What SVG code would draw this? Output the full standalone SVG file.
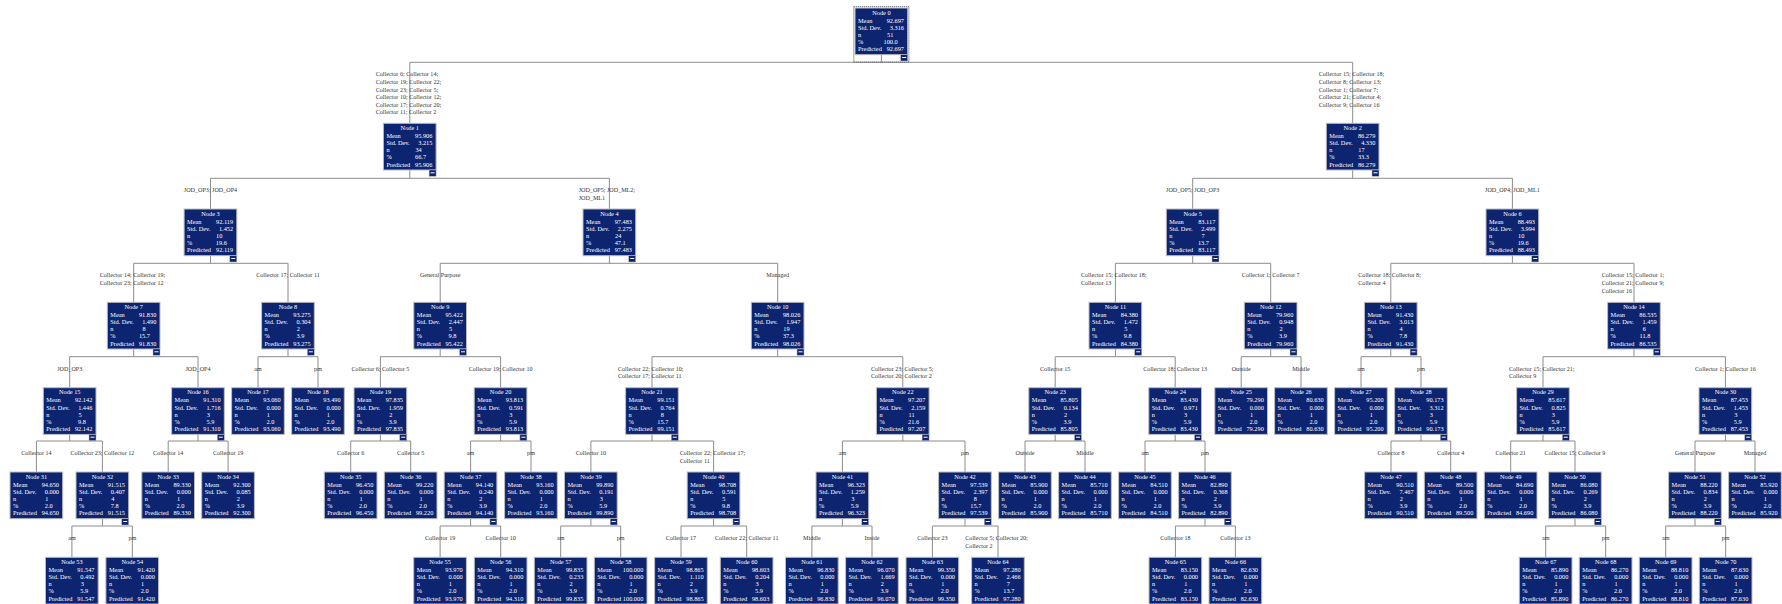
<svg xmlns="http://www.w3.org/2000/svg" xmlns:xlink="http://www.w3.org/1999/xlink" width="1782" height="604" viewBox="0 0 1782 604">
<style>
.box{fill:#0d2471;stroke:#bdbdbd;stroke-width:1}
.hd{font-family:"Liberation Serif",serif;font-size:6.3px;fill:#fff;text-anchor:middle}
.lb{font-family:"Liberation Serif",serif;font-size:6.3px;fill:#fff;text-anchor:start}
.vl{font-family:"Liberation Serif",serif;font-size:6.3px;fill:#fff;text-anchor:end}
.cn{fill:none;stroke:#8c8c8c;stroke-width:1}
.el{font-family:"Liberation Serif",serif;font-size:6.1px;fill:#333}
.m{text-anchor:middle}
.dot{fill:none;stroke:#444;stroke-width:1;stroke-dasharray:1 1}
</style>
<defs>
<g id="minus"><rect width="7" height="6.3" fill="#0d2471" stroke="#bdbdbd" stroke-width="0.5"/><path d="M1.5 2.8H5.5" stroke="#fff" stroke-width="1"/></g>
</defs>
<rect width="1782" height="604" fill="#fff"/>
<g id="connectors">
<path class="cn" d="M881.4 54.7V62.3M409.8 123.3V62.3H1352.7V123.3"/>
<path class="cn" d="M409.8 170V178.3M210.5 209V178.3H609.4V209"/>
<path class="cn" d="M1352.7 170V178.3M1192.7 209V178.3H1512.4V209"/>
<path class="cn" d="M210.5 255.7V263.3M133.7 302.3V263.3H288V302.3"/>
<path class="cn" d="M609.4 255.7V263.3M440.2 302.3V263.3H777.7V302.3"/>
<path class="cn" d="M1192.7 255.7V263.3M1115.4 302.3V263.3H1270.7V302.3"/>
<path class="cn" d="M1512.4 255.7V263.3M1390.8 302.3V263.3H1634V302.3"/>
<path class="cn" d="M133.7 349V356.7M69.7 387.7V356.7H198V387.7"/>
<path class="cn" d="M288 349V356.7M258 387.7V356.7H318V387.7"/>
<path class="cn" d="M440.2 349V356.7M380.4 387.7V356.7H500.6V387.7"/>
<path class="cn" d="M777.7 349V356.7M652 387.7V356.7H902.8V387.7"/>
<path class="cn" d="M1115.4 349V356.7M1055.2 387.7V356.7H1175.2V387.7"/>
<path class="cn" d="M1270.7 349V356.7M1241.2 387.7V356.7H1301V387.7"/>
<path class="cn" d="M1390.8 349V356.7M1361 387.7V356.7H1421V387.7"/>
<path class="cn" d="M1634 349V356.7M1543 387.7V356.7H1725.4V387.7"/>
<path class="cn" d="M69.7 434.4V441M36.4 472V441H102.4V472"/>
<path class="cn" d="M198 434.4V441M168.2 472V441H228.1V472"/>
<path class="cn" d="M380.4 434.4V441M350.7 472V441H410.7V472"/>
<path class="cn" d="M500.6 434.4V441M470.6 472V441H531V472"/>
<path class="cn" d="M652 434.4V441M590.9 472V441H713.6V472"/>
<path class="cn" d="M902.8 434.4V441M842.4 472V441H965V472"/>
<path class="cn" d="M1055.2 434.4V441M1025 472V441H1085V472"/>
<path class="cn" d="M1175.2 434.4V441M1145 472V441H1205V472"/>
<path class="cn" d="M1421 434.4V441M1391 472V441H1450.7V472"/>
<path class="cn" d="M1543 434.4V441M1510.7 472V441H1575V472"/>
<path class="cn" d="M1725.4 434.4V441M1695 472V441H1755V472"/>
<path class="cn" d="M102.4 518.7V526M71.9 557.3V526H132.3V557.3"/>
<path class="cn" d="M470.6 518.7V526M440.1 557.3V526H500.7V557.3"/>
<path class="cn" d="M590.9 518.7V526M560.7 557.3V526H620.7V557.3"/>
<path class="cn" d="M713.6 518.7V526M681 557.3V526H746.7V557.3"/>
<path class="cn" d="M842.4 518.7V526M811.9 557.3V526H872V557.3"/>
<path class="cn" d="M965 518.7V526M932.4 557.3V526H998V557.3"/>
<path class="cn" d="M1205 518.7V526M1175.4 557.3V526H1235.4V557.3"/>
<path class="cn" d="M1575 518.7V526M1545.7 557.3V526H1605.7V557.3"/>
<path class="cn" d="M1695 518.7V526M1665.7 557.3V526H1725.7V557.3"/>
<g id="edge-labels">
<text class="el"><tspan x="375.7" y="76.3">Collector 6; Collector 14;</tspan><tspan x="375.7" y="83.9">Collector 19; Collector 22;</tspan><tspan x="375.7" y="91.5">Collector 23; Collector 5;</tspan><tspan x="375.7" y="99.1">Collector 10; Collector 12;</tspan><tspan x="375.7" y="106.7">Collector 17; Collector 20;</tspan><tspan x="375.7" y="114.3">Collector 11; Collector 2</tspan></text>
<text class="el"><tspan x="1318.7" y="76.3">Collector 15; Collector 18;</tspan><tspan x="1318.7" y="83.9">Collector 8; Collector 13;</tspan><tspan x="1318.7" y="91.5">Collector 1; Collector 7;</tspan><tspan x="1318.7" y="99.1">Collector 21; Collector 4;</tspan><tspan x="1318.7" y="106.7">Collector 9; Collector 16</tspan></text>
<text class="el m" x="210.5" y="192.3">JOD_OP3; JOD_OP4</text>
<text class="el"><tspan x="578.7" y="192.3">JOD_OP5; JOD_ML2;</tspan><tspan x="578.7" y="199.9">JOD_ML1</tspan></text>
<text class="el m" x="1192.7" y="192.3">JOD_OP5; JOD_OP3</text>
<text class="el m" x="1512.4" y="192.3">JOD_OP4; JOD_ML1</text>
<text class="el"><tspan x="99.7" y="277.3">Collector 14; Collector 19;</tspan><tspan x="99.7" y="284.9">Collector 23; Collector 12</tspan></text>
<text class="el m" x="288" y="277.3">Collector 17; Collector 11</text>
<text class="el m" x="440.2" y="277.3">General Purpose</text>
<text class="el m" x="777.7" y="277.3">Managed</text>
<text class="el"><tspan x="1081" y="277.3">Collector 15; Collector 18;</tspan><tspan x="1081" y="284.9">Collector 13</tspan></text>
<text class="el m" x="1270.7" y="277.3">Collector 1; Collector 7</text>
<text class="el"><tspan x="1358.3" y="277.3">Collector 18; Collector 8;</tspan><tspan x="1358.3" y="284.9">Collector 4</tspan></text>
<text class="el"><tspan x="1601.7" y="277.3">Collector 15; Collector 1;</tspan><tspan x="1601.7" y="284.9">Collector 21; Collector 9;</tspan><tspan x="1601.7" y="292.5">Collector 16</tspan></text>
<text class="el m" x="69.7" y="370.7">JOD_OP3</text>
<text class="el m" x="198" y="370.7">JOD_OP4</text>
<text class="el m" x="258" y="370.7">am</text>
<text class="el m" x="318" y="370.7">pm</text>
<text class="el m" x="380.4" y="370.7">Collector 6; Collector 5</text>
<text class="el m" x="500.6" y="370.7">Collector 19; Collector 10</text>
<text class="el"><tspan x="618" y="370.7">Collector 22; Collector 10;</tspan><tspan x="618" y="378.3">Collector 17; Collector 11</tspan></text>
<text class="el"><tspan x="871" y="370.7">Collector 23; Collector 5;</tspan><tspan x="871" y="378.3">Collector 20; Collector 2</tspan></text>
<text class="el m" x="1055.2" y="370.7">Collector 15</text>
<text class="el m" x="1175.2" y="370.7">Collector 18; Collector 13</text>
<text class="el m" x="1241.2" y="370.7">Outside</text>
<text class="el m" x="1301" y="370.7">Middle</text>
<text class="el m" x="1361" y="370.7">am</text>
<text class="el m" x="1421" y="370.7">pm</text>
<text class="el"><tspan x="1509" y="370.7">Collector 15; Collector 21;</tspan><tspan x="1509" y="378.3">Collector 9</tspan></text>
<text class="el m" x="1725.4" y="370.7">Collector 1; Collector 16</text>
<text class="el m" x="36.4" y="455">Collector 14</text>
<text class="el m" x="102.4" y="455">Collector 23; Collector 12</text>
<text class="el m" x="168.2" y="455">Collector 14</text>
<text class="el m" x="228.1" y="455">Collector 19</text>
<text class="el m" x="350.7" y="455">Collector 6</text>
<text class="el m" x="410.7" y="455">Collector 5</text>
<text class="el m" x="470.6" y="455">am</text>
<text class="el m" x="531" y="455">pm</text>
<text class="el m" x="590.9" y="455">Collector 10</text>
<text class="el"><tspan x="679.7" y="455">Collector 22; Collector 17;</tspan><tspan x="679.7" y="462.6">Collector 11</tspan></text>
<text class="el m" x="842.4" y="455">am</text>
<text class="el m" x="965" y="455">pm</text>
<text class="el m" x="1025" y="455">Outside</text>
<text class="el m" x="1085" y="455">Middle</text>
<text class="el m" x="1145" y="455">am</text>
<text class="el m" x="1205" y="455">pm</text>
<text class="el m" x="1391" y="455">Collector 8</text>
<text class="el m" x="1450.7" y="455">Collector 4</text>
<text class="el m" x="1510.7" y="455">Collector 21</text>
<text class="el m" x="1575" y="455">Collector 15; Collector 9</text>
<text class="el m" x="1695" y="455">General Purpose</text>
<text class="el m" x="1755" y="455">Managed</text>
<text class="el m" x="71.9" y="540">am</text>
<text class="el m" x="132.3" y="540">pm</text>
<text class="el m" x="440.1" y="540">Collector 19</text>
<text class="el m" x="500.7" y="540">Collector 10</text>
<text class="el m" x="560.7" y="540">am</text>
<text class="el m" x="620.7" y="540">pm</text>
<text class="el m" x="681" y="540">Collector 17</text>
<text class="el m" x="746.7" y="540">Collector 22; Collector 11</text>
<text class="el m" x="811.9" y="540">Middle</text>
<text class="el m" x="872" y="540">Inside</text>
<text class="el m" x="932.4" y="540">Collector 23</text>
<text class="el"><tspan x="965.3" y="540">Collector 5; Collector 20;</tspan><tspan x="965.3" y="547.6">Collector 2</tspan></text>
<text class="el m" x="1175.4" y="540">Collector 18</text>
<text class="el m" x="1235.4" y="540">Collector 13</text>
<text class="el m" x="1545.7" y="540">am</text>
<text class="el m" x="1605.7" y="540">pm</text>
<text class="el m" x="1665.7" y="540">am</text>
<text class="el m" x="1725.7" y="540">pm</text>
</g>
</g>
<g id="nodes">
<g id="node-0" transform="translate(855,8)"><rect class="dot" x="-1.2" y="-1.3" width="55.1" height="55.3"/><rect class="box" width="52.7" height="46.7"/><text class="hd" x="26.4" y="6.6">Node 0</text><text class="lb"><tspan x="3" y="14.6">Mean</tspan><tspan x="3" y="21.9">Std. Dev.</tspan><tspan x="3" y="29">n</tspan><tspan x="3" y="36.1">%</tspan><tspan x="3" y="43.3">Predicted</tspan></text><text class="vl"><tspan x="49" y="14.6">92.697</tspan><tspan x="49" y="21.9">3.316</tspan><tspan x="38.3" y="29">51</tspan><tspan x="42.7" y="36.1">100.0</tspan><tspan x="49" y="43.3">92.697</tspan></text><use xlink:href="#minus" x="45.7" y="46.7"/></g>
<g id="node-1" transform="translate(383.4,123.3)"><rect class="box" width="52.7" height="46.7"/><text class="hd" x="26.4" y="6.6">Node 1</text><text class="lb"><tspan x="3" y="14.6">Mean</tspan><tspan x="3" y="21.9">Std. Dev.</tspan><tspan x="3" y="29">n</tspan><tspan x="3" y="36.1">%</tspan><tspan x="3" y="43.3">Predicted</tspan></text><text class="vl"><tspan x="49" y="14.6">95.906</tspan><tspan x="49" y="21.9">3.215</tspan><tspan x="38.3" y="29">34</tspan><tspan x="42.7" y="36.1">66.7</tspan><tspan x="49" y="43.3">95.906</tspan></text><use xlink:href="#minus" x="45.7" y="46.7"/></g>
<g id="node-2" transform="translate(1326.3,123.3)"><rect class="box" width="52.7" height="46.7"/><text class="hd" x="26.4" y="6.6">Node 2</text><text class="lb"><tspan x="3" y="14.6">Mean</tspan><tspan x="3" y="21.9">Std. Dev.</tspan><tspan x="3" y="29">n</tspan><tspan x="3" y="36.1">%</tspan><tspan x="3" y="43.3">Predicted</tspan></text><text class="vl"><tspan x="49" y="14.6">86.279</tspan><tspan x="49" y="21.9">4.330</tspan><tspan x="38.3" y="29">17</tspan><tspan x="42.7" y="36.1">33.3</tspan><tspan x="49" y="43.3">86.279</tspan></text><use xlink:href="#minus" x="45.7" y="46.7"/></g>
<g id="node-3" transform="translate(184.1,209)"><rect class="box" width="52.7" height="46.7"/><text class="hd" x="26.4" y="6.6">Node 3</text><text class="lb"><tspan x="3" y="14.6">Mean</tspan><tspan x="3" y="21.9">Std. Dev.</tspan><tspan x="3" y="29">n</tspan><tspan x="3" y="36.1">%</tspan><tspan x="3" y="43.3">Predicted</tspan></text><text class="vl"><tspan x="49" y="14.6">92.119</tspan><tspan x="49" y="21.9">1.452</tspan><tspan x="38.3" y="29">10</tspan><tspan x="42.7" y="36.1">19.6</tspan><tspan x="49" y="43.3">92.119</tspan></text><use xlink:href="#minus" x="45.7" y="46.7"/></g>
<g id="node-4" transform="translate(583,209)"><rect class="box" width="52.7" height="46.7"/><text class="hd" x="26.4" y="6.6">Node 4</text><text class="lb"><tspan x="3" y="14.6">Mean</tspan><tspan x="3" y="21.9">Std. Dev.</tspan><tspan x="3" y="29">n</tspan><tspan x="3" y="36.1">%</tspan><tspan x="3" y="43.3">Predicted</tspan></text><text class="vl"><tspan x="49" y="14.6">97.483</tspan><tspan x="49" y="21.9">2.275</tspan><tspan x="38.3" y="29">24</tspan><tspan x="42.7" y="36.1">47.1</tspan><tspan x="49" y="43.3">97.483</tspan></text><use xlink:href="#minus" x="45.7" y="46.7"/></g>
<g id="node-5" transform="translate(1166.3,209)"><rect class="box" width="52.7" height="46.7"/><text class="hd" x="26.4" y="6.6">Node 5</text><text class="lb"><tspan x="3" y="14.6">Mean</tspan><tspan x="3" y="21.9">Std. Dev.</tspan><tspan x="3" y="29">n</tspan><tspan x="3" y="36.1">%</tspan><tspan x="3" y="43.3">Predicted</tspan></text><text class="vl"><tspan x="49" y="14.6">83.117</tspan><tspan x="49" y="21.9">2.499</tspan><tspan x="38.3" y="29">7</tspan><tspan x="42.7" y="36.1">13.7</tspan><tspan x="49" y="43.3">83.117</tspan></text><use xlink:href="#minus" x="45.7" y="46.7"/></g>
<g id="node-6" transform="translate(1486,209)"><rect class="box" width="52.7" height="46.7"/><text class="hd" x="26.4" y="6.6">Node 6</text><text class="lb"><tspan x="3" y="14.6">Mean</tspan><tspan x="3" y="21.9">Std. Dev.</tspan><tspan x="3" y="29">n</tspan><tspan x="3" y="36.1">%</tspan><tspan x="3" y="43.3">Predicted</tspan></text><text class="vl"><tspan x="49" y="14.6">88.493</tspan><tspan x="49" y="21.9">3.994</tspan><tspan x="38.3" y="29">10</tspan><tspan x="42.7" y="36.1">19.6</tspan><tspan x="49" y="43.3">88.493</tspan></text><use xlink:href="#minus" x="45.7" y="46.7"/></g>
<g id="node-7" transform="translate(107.3,302.3)"><rect class="box" width="52.7" height="46.7"/><text class="hd" x="26.4" y="6.6">Node 7</text><text class="lb"><tspan x="3" y="14.6">Mean</tspan><tspan x="3" y="21.9">Std. Dev.</tspan><tspan x="3" y="29">n</tspan><tspan x="3" y="36.1">%</tspan><tspan x="3" y="43.3">Predicted</tspan></text><text class="vl"><tspan x="49" y="14.6">91.830</tspan><tspan x="49" y="21.9">1.490</tspan><tspan x="38.3" y="29">8</tspan><tspan x="42.7" y="36.1">15.7</tspan><tspan x="49" y="43.3">91.830</tspan></text><use xlink:href="#minus" x="45.7" y="46.7"/></g>
<g id="node-8" transform="translate(261.6,302.3)"><rect class="box" width="52.7" height="46.7"/><text class="hd" x="26.4" y="6.6">Node 8</text><text class="lb"><tspan x="3" y="14.6">Mean</tspan><tspan x="3" y="21.9">Std. Dev.</tspan><tspan x="3" y="29">n</tspan><tspan x="3" y="36.1">%</tspan><tspan x="3" y="43.3">Predicted</tspan></text><text class="vl"><tspan x="49" y="14.6">93.275</tspan><tspan x="49" y="21.9">0.304</tspan><tspan x="38.3" y="29">2</tspan><tspan x="42.7" y="36.1">3.9</tspan><tspan x="49" y="43.3">93.275</tspan></text><use xlink:href="#minus" x="45.7" y="46.7"/></g>
<g id="node-9" transform="translate(413.8,302.3)"><rect class="box" width="52.7" height="46.7"/><text class="hd" x="26.4" y="6.6">Node 9</text><text class="lb"><tspan x="3" y="14.6">Mean</tspan><tspan x="3" y="21.9">Std. Dev.</tspan><tspan x="3" y="29">n</tspan><tspan x="3" y="36.1">%</tspan><tspan x="3" y="43.3">Predicted</tspan></text><text class="vl"><tspan x="49" y="14.6">95.422</tspan><tspan x="49" y="21.9">2.447</tspan><tspan x="38.3" y="29">5</tspan><tspan x="42.7" y="36.1">9.8</tspan><tspan x="49" y="43.3">95.422</tspan></text><use xlink:href="#minus" x="45.7" y="46.7"/></g>
<g id="node-10" transform="translate(751.3,302.3)"><rect class="box" width="52.7" height="46.7"/><text class="hd" x="26.4" y="6.6">Node 10</text><text class="lb"><tspan x="3" y="14.6">Mean</tspan><tspan x="3" y="21.9">Std. Dev.</tspan><tspan x="3" y="29">n</tspan><tspan x="3" y="36.1">%</tspan><tspan x="3" y="43.3">Predicted</tspan></text><text class="vl"><tspan x="49" y="14.6">98.026</tspan><tspan x="49" y="21.9">1.947</tspan><tspan x="38.3" y="29">19</tspan><tspan x="42.7" y="36.1">37.3</tspan><tspan x="49" y="43.3">98.026</tspan></text><use xlink:href="#minus" x="45.7" y="46.7"/></g>
<g id="node-11" transform="translate(1089,302.3)"><rect class="box" width="52.7" height="46.7"/><text class="hd" x="26.4" y="6.6">Node 11</text><text class="lb"><tspan x="3" y="14.6">Mean</tspan><tspan x="3" y="21.9">Std. Dev.</tspan><tspan x="3" y="29">n</tspan><tspan x="3" y="36.1">%</tspan><tspan x="3" y="43.3">Predicted</tspan></text><text class="vl"><tspan x="49" y="14.6">84.380</tspan><tspan x="49" y="21.9">1.472</tspan><tspan x="38.3" y="29">5</tspan><tspan x="42.7" y="36.1">9.8</tspan><tspan x="49" y="43.3">84.380</tspan></text><use xlink:href="#minus" x="45.7" y="46.7"/></g>
<g id="node-12" transform="translate(1244.3,302.3)"><rect class="box" width="52.7" height="46.7"/><text class="hd" x="26.4" y="6.6">Node 12</text><text class="lb"><tspan x="3" y="14.6">Mean</tspan><tspan x="3" y="21.9">Std. Dev.</tspan><tspan x="3" y="29">n</tspan><tspan x="3" y="36.1">%</tspan><tspan x="3" y="43.3">Predicted</tspan></text><text class="vl"><tspan x="49" y="14.6">79.960</tspan><tspan x="49" y="21.9">0.948</tspan><tspan x="38.3" y="29">2</tspan><tspan x="42.7" y="36.1">3.9</tspan><tspan x="49" y="43.3">79.960</tspan></text><use xlink:href="#minus" x="45.7" y="46.7"/></g>
<g id="node-13" transform="translate(1364.4,302.3)"><rect class="box" width="52.7" height="46.7"/><text class="hd" x="26.4" y="6.6">Node 13</text><text class="lb"><tspan x="3" y="14.6">Mean</tspan><tspan x="3" y="21.9">Std. Dev.</tspan><tspan x="3" y="29">n</tspan><tspan x="3" y="36.1">%</tspan><tspan x="3" y="43.3">Predicted</tspan></text><text class="vl"><tspan x="49" y="14.6">91.430</tspan><tspan x="49" y="21.9">3.013</tspan><tspan x="38.3" y="29">4</tspan><tspan x="42.7" y="36.1">7.8</tspan><tspan x="49" y="43.3">91.430</tspan></text><use xlink:href="#minus" x="45.7" y="46.7"/></g>
<g id="node-14" transform="translate(1607.6,302.3)"><rect class="box" width="52.7" height="46.7"/><text class="hd" x="26.4" y="6.6">Node 14</text><text class="lb"><tspan x="3" y="14.6">Mean</tspan><tspan x="3" y="21.9">Std. Dev.</tspan><tspan x="3" y="29">n</tspan><tspan x="3" y="36.1">%</tspan><tspan x="3" y="43.3">Predicted</tspan></text><text class="vl"><tspan x="49" y="14.6">86.535</tspan><tspan x="49" y="21.9">1.459</tspan><tspan x="38.3" y="29">6</tspan><tspan x="42.7" y="36.1">11.8</tspan><tspan x="49" y="43.3">86.535</tspan></text><use xlink:href="#minus" x="45.7" y="46.7"/></g>
<g id="node-15" transform="translate(43.3,387.7)"><rect class="box" width="52.7" height="46.7"/><text class="hd" x="26.4" y="6.6">Node 15</text><text class="lb"><tspan x="3" y="14.6">Mean</tspan><tspan x="3" y="21.9">Std. Dev.</tspan><tspan x="3" y="29">n</tspan><tspan x="3" y="36.1">%</tspan><tspan x="3" y="43.3">Predicted</tspan></text><text class="vl"><tspan x="49" y="14.6">92.142</tspan><tspan x="49" y="21.9">1.446</tspan><tspan x="38.3" y="29">5</tspan><tspan x="42.7" y="36.1">9.8</tspan><tspan x="49" y="43.3">92.142</tspan></text><use xlink:href="#minus" x="45.7" y="46.7"/></g>
<g id="node-16" transform="translate(171.6,387.7)"><rect class="box" width="52.7" height="46.7"/><text class="hd" x="26.4" y="6.6">Node 16</text><text class="lb"><tspan x="3" y="14.6">Mean</tspan><tspan x="3" y="21.9">Std. Dev.</tspan><tspan x="3" y="29">n</tspan><tspan x="3" y="36.1">%</tspan><tspan x="3" y="43.3">Predicted</tspan></text><text class="vl"><tspan x="49" y="14.6">91.310</tspan><tspan x="49" y="21.9">1.716</tspan><tspan x="38.3" y="29">3</tspan><tspan x="42.7" y="36.1">5.9</tspan><tspan x="49" y="43.3">91.310</tspan></text><use xlink:href="#minus" x="45.7" y="46.7"/></g>
<g id="node-17" transform="translate(231.6,387.7)"><rect class="box" width="52.7" height="46.7"/><text class="hd" x="26.4" y="6.6">Node 17</text><text class="lb"><tspan x="3" y="14.6">Mean</tspan><tspan x="3" y="21.9">Std. Dev.</tspan><tspan x="3" y="29">n</tspan><tspan x="3" y="36.1">%</tspan><tspan x="3" y="43.3">Predicted</tspan></text><text class="vl"><tspan x="49" y="14.6">93.060</tspan><tspan x="49" y="21.9">0.000</tspan><tspan x="38.3" y="29">1</tspan><tspan x="42.7" y="36.1">2.0</tspan><tspan x="49" y="43.3">93.060</tspan></text></g>
<g id="node-18" transform="translate(291.6,387.7)"><rect class="box" width="52.7" height="46.7"/><text class="hd" x="26.4" y="6.6">Node 18</text><text class="lb"><tspan x="3" y="14.6">Mean</tspan><tspan x="3" y="21.9">Std. Dev.</tspan><tspan x="3" y="29">n</tspan><tspan x="3" y="36.1">%</tspan><tspan x="3" y="43.3">Predicted</tspan></text><text class="vl"><tspan x="49" y="14.6">93.490</tspan><tspan x="49" y="21.9">0.000</tspan><tspan x="38.3" y="29">1</tspan><tspan x="42.7" y="36.1">2.0</tspan><tspan x="49" y="43.3">93.490</tspan></text></g>
<g id="node-19" transform="translate(354,387.7)"><rect class="box" width="52.7" height="46.7"/><text class="hd" x="26.4" y="6.6">Node 19</text><text class="lb"><tspan x="3" y="14.6">Mean</tspan><tspan x="3" y="21.9">Std. Dev.</tspan><tspan x="3" y="29">n</tspan><tspan x="3" y="36.1">%</tspan><tspan x="3" y="43.3">Predicted</tspan></text><text class="vl"><tspan x="49" y="14.6">97.835</tspan><tspan x="49" y="21.9">1.959</tspan><tspan x="38.3" y="29">2</tspan><tspan x="42.7" y="36.1">3.9</tspan><tspan x="49" y="43.3">97.835</tspan></text><use xlink:href="#minus" x="45.7" y="46.7"/></g>
<g id="node-20" transform="translate(474.2,387.7)"><rect class="box" width="52.7" height="46.7"/><text class="hd" x="26.4" y="6.6">Node 20</text><text class="lb"><tspan x="3" y="14.6">Mean</tspan><tspan x="3" y="21.9">Std. Dev.</tspan><tspan x="3" y="29">n</tspan><tspan x="3" y="36.1">%</tspan><tspan x="3" y="43.3">Predicted</tspan></text><text class="vl"><tspan x="49" y="14.6">93.813</tspan><tspan x="49" y="21.9">0.591</tspan><tspan x="38.3" y="29">3</tspan><tspan x="42.7" y="36.1">5.9</tspan><tspan x="49" y="43.3">93.813</tspan></text><use xlink:href="#minus" x="45.7" y="46.7"/></g>
<g id="node-21" transform="translate(625.6,387.7)"><rect class="box" width="52.7" height="46.7"/><text class="hd" x="26.4" y="6.6">Node 21</text><text class="lb"><tspan x="3" y="14.6">Mean</tspan><tspan x="3" y="21.9">Std. Dev.</tspan><tspan x="3" y="29">n</tspan><tspan x="3" y="36.1">%</tspan><tspan x="3" y="43.3">Predicted</tspan></text><text class="vl"><tspan x="49" y="14.6">99.151</tspan><tspan x="49" y="21.9">0.764</tspan><tspan x="38.3" y="29">8</tspan><tspan x="42.7" y="36.1">15.7</tspan><tspan x="49" y="43.3">99.151</tspan></text><use xlink:href="#minus" x="45.7" y="46.7"/></g>
<g id="node-22" transform="translate(876.4,387.7)"><rect class="box" width="52.7" height="46.7"/><text class="hd" x="26.4" y="6.6">Node 22</text><text class="lb"><tspan x="3" y="14.6">Mean</tspan><tspan x="3" y="21.9">Std. Dev.</tspan><tspan x="3" y="29">n</tspan><tspan x="3" y="36.1">%</tspan><tspan x="3" y="43.3">Predicted</tspan></text><text class="vl"><tspan x="49" y="14.6">97.207</tspan><tspan x="49" y="21.9">2.159</tspan><tspan x="38.3" y="29">11</tspan><tspan x="42.7" y="36.1">21.6</tspan><tspan x="49" y="43.3">97.207</tspan></text><use xlink:href="#minus" x="45.7" y="46.7"/></g>
<g id="node-23" transform="translate(1028.8,387.7)"><rect class="box" width="52.7" height="46.7"/><text class="hd" x="26.4" y="6.6">Node 23</text><text class="lb"><tspan x="3" y="14.6">Mean</tspan><tspan x="3" y="21.9">Std. Dev.</tspan><tspan x="3" y="29">n</tspan><tspan x="3" y="36.1">%</tspan><tspan x="3" y="43.3">Predicted</tspan></text><text class="vl"><tspan x="49" y="14.6">85.805</tspan><tspan x="49" y="21.9">0.134</tspan><tspan x="38.3" y="29">2</tspan><tspan x="42.7" y="36.1">3.9</tspan><tspan x="49" y="43.3">85.805</tspan></text><use xlink:href="#minus" x="45.7" y="46.7"/></g>
<g id="node-24" transform="translate(1148.8,387.7)"><rect class="box" width="52.7" height="46.7"/><text class="hd" x="26.4" y="6.6">Node 24</text><text class="lb"><tspan x="3" y="14.6">Mean</tspan><tspan x="3" y="21.9">Std. Dev.</tspan><tspan x="3" y="29">n</tspan><tspan x="3" y="36.1">%</tspan><tspan x="3" y="43.3">Predicted</tspan></text><text class="vl"><tspan x="49" y="14.6">83.430</tspan><tspan x="49" y="21.9">0.971</tspan><tspan x="38.3" y="29">3</tspan><tspan x="42.7" y="36.1">5.9</tspan><tspan x="49" y="43.3">83.430</tspan></text><use xlink:href="#minus" x="45.7" y="46.7"/></g>
<g id="node-25" transform="translate(1214.8,387.7)"><rect class="box" width="52.7" height="46.7"/><text class="hd" x="26.4" y="6.6">Node 25</text><text class="lb"><tspan x="3" y="14.6">Mean</tspan><tspan x="3" y="21.9">Std. Dev.</tspan><tspan x="3" y="29">n</tspan><tspan x="3" y="36.1">%</tspan><tspan x="3" y="43.3">Predicted</tspan></text><text class="vl"><tspan x="49" y="14.6">79.290</tspan><tspan x="49" y="21.9">0.000</tspan><tspan x="38.3" y="29">1</tspan><tspan x="42.7" y="36.1">2.0</tspan><tspan x="49" y="43.3">79.290</tspan></text></g>
<g id="node-26" transform="translate(1274.6,387.7)"><rect class="box" width="52.7" height="46.7"/><text class="hd" x="26.4" y="6.6">Node 26</text><text class="lb"><tspan x="3" y="14.6">Mean</tspan><tspan x="3" y="21.9">Std. Dev.</tspan><tspan x="3" y="29">n</tspan><tspan x="3" y="36.1">%</tspan><tspan x="3" y="43.3">Predicted</tspan></text><text class="vl"><tspan x="49" y="14.6">80.630</tspan><tspan x="49" y="21.9">0.000</tspan><tspan x="38.3" y="29">1</tspan><tspan x="42.7" y="36.1">2.0</tspan><tspan x="49" y="43.3">80.630</tspan></text></g>
<g id="node-27" transform="translate(1334.6,387.7)"><rect class="box" width="52.7" height="46.7"/><text class="hd" x="26.4" y="6.6">Node 27</text><text class="lb"><tspan x="3" y="14.6">Mean</tspan><tspan x="3" y="21.9">Std. Dev.</tspan><tspan x="3" y="29">n</tspan><tspan x="3" y="36.1">%</tspan><tspan x="3" y="43.3">Predicted</tspan></text><text class="vl"><tspan x="49" y="14.6">95.200</tspan><tspan x="49" y="21.9">0.000</tspan><tspan x="38.3" y="29">1</tspan><tspan x="42.7" y="36.1">2.0</tspan><tspan x="49" y="43.3">95.200</tspan></text></g>
<g id="node-28" transform="translate(1394.6,387.7)"><rect class="box" width="52.7" height="46.7"/><text class="hd" x="26.4" y="6.6">Node 28</text><text class="lb"><tspan x="3" y="14.6">Mean</tspan><tspan x="3" y="21.9">Std. Dev.</tspan><tspan x="3" y="29">n</tspan><tspan x="3" y="36.1">%</tspan><tspan x="3" y="43.3">Predicted</tspan></text><text class="vl"><tspan x="49" y="14.6">90.173</tspan><tspan x="49" y="21.9">3.312</tspan><tspan x="38.3" y="29">3</tspan><tspan x="42.7" y="36.1">5.9</tspan><tspan x="49" y="43.3">90.173</tspan></text><use xlink:href="#minus" x="45.7" y="46.7"/></g>
<g id="node-29" transform="translate(1516.6,387.7)"><rect class="box" width="52.7" height="46.7"/><text class="hd" x="26.4" y="6.6">Node 29</text><text class="lb"><tspan x="3" y="14.6">Mean</tspan><tspan x="3" y="21.9">Std. Dev.</tspan><tspan x="3" y="29">n</tspan><tspan x="3" y="36.1">%</tspan><tspan x="3" y="43.3">Predicted</tspan></text><text class="vl"><tspan x="49" y="14.6">85.617</tspan><tspan x="49" y="21.9">0.825</tspan><tspan x="38.3" y="29">3</tspan><tspan x="42.7" y="36.1">5.9</tspan><tspan x="49" y="43.3">85.617</tspan></text><use xlink:href="#minus" x="45.7" y="46.7"/></g>
<g id="node-30" transform="translate(1699,387.7)"><rect class="box" width="52.7" height="46.7"/><text class="hd" x="26.4" y="6.6">Node 30</text><text class="lb"><tspan x="3" y="14.6">Mean</tspan><tspan x="3" y="21.9">Std. Dev.</tspan><tspan x="3" y="29">n</tspan><tspan x="3" y="36.1">%</tspan><tspan x="3" y="43.3">Predicted</tspan></text><text class="vl"><tspan x="49" y="14.6">87.453</tspan><tspan x="49" y="21.9">1.453</tspan><tspan x="38.3" y="29">3</tspan><tspan x="42.7" y="36.1">5.9</tspan><tspan x="49" y="43.3">87.453</tspan></text><use xlink:href="#minus" x="45.7" y="46.7"/></g>
<g id="node-31" transform="translate(10,472)"><rect class="box" width="52.7" height="46.7"/><text class="hd" x="26.4" y="6.6">Node 31</text><text class="lb"><tspan x="3" y="14.6">Mean</tspan><tspan x="3" y="21.9">Std. Dev.</tspan><tspan x="3" y="29">n</tspan><tspan x="3" y="36.1">%</tspan><tspan x="3" y="43.3">Predicted</tspan></text><text class="vl"><tspan x="49" y="14.6">94.650</tspan><tspan x="49" y="21.9">0.000</tspan><tspan x="38.3" y="29">1</tspan><tspan x="42.7" y="36.1">2.0</tspan><tspan x="49" y="43.3">94.650</tspan></text></g>
<g id="node-32" transform="translate(76,472)"><rect class="box" width="52.7" height="46.7"/><text class="hd" x="26.4" y="6.6">Node 32</text><text class="lb"><tspan x="3" y="14.6">Mean</tspan><tspan x="3" y="21.9">Std. Dev.</tspan><tspan x="3" y="29">n</tspan><tspan x="3" y="36.1">%</tspan><tspan x="3" y="43.3">Predicted</tspan></text><text class="vl"><tspan x="49" y="14.6">91.515</tspan><tspan x="49" y="21.9">0.407</tspan><tspan x="38.3" y="29">4</tspan><tspan x="42.7" y="36.1">7.8</tspan><tspan x="49" y="43.3">91.515</tspan></text><use xlink:href="#minus" x="45.7" y="46.7"/></g>
<g id="node-33" transform="translate(141.8,472)"><rect class="box" width="52.7" height="46.7"/><text class="hd" x="26.4" y="6.6">Node 33</text><text class="lb"><tspan x="3" y="14.6">Mean</tspan><tspan x="3" y="21.9">Std. Dev.</tspan><tspan x="3" y="29">n</tspan><tspan x="3" y="36.1">%</tspan><tspan x="3" y="43.3">Predicted</tspan></text><text class="vl"><tspan x="49" y="14.6">89.330</tspan><tspan x="49" y="21.9">0.000</tspan><tspan x="38.3" y="29">1</tspan><tspan x="42.7" y="36.1">2.0</tspan><tspan x="49" y="43.3">89.330</tspan></text></g>
<g id="node-34" transform="translate(201.7,472)"><rect class="box" width="52.7" height="46.7"/><text class="hd" x="26.4" y="6.6">Node 34</text><text class="lb"><tspan x="3" y="14.6">Mean</tspan><tspan x="3" y="21.9">Std. Dev.</tspan><tspan x="3" y="29">n</tspan><tspan x="3" y="36.1">%</tspan><tspan x="3" y="43.3">Predicted</tspan></text><text class="vl"><tspan x="49" y="14.6">92.300</tspan><tspan x="49" y="21.9">0.085</tspan><tspan x="38.3" y="29">2</tspan><tspan x="42.7" y="36.1">3.9</tspan><tspan x="49" y="43.3">92.300</tspan></text></g>
<g id="node-35" transform="translate(324.3,472)"><rect class="box" width="52.7" height="46.7"/><text class="hd" x="26.4" y="6.6">Node 35</text><text class="lb"><tspan x="3" y="14.6">Mean</tspan><tspan x="3" y="21.9">Std. Dev.</tspan><tspan x="3" y="29">n</tspan><tspan x="3" y="36.1">%</tspan><tspan x="3" y="43.3">Predicted</tspan></text><text class="vl"><tspan x="49" y="14.6">96.450</tspan><tspan x="49" y="21.9">0.000</tspan><tspan x="38.3" y="29">1</tspan><tspan x="42.7" y="36.1">2.0</tspan><tspan x="49" y="43.3">96.450</tspan></text></g>
<g id="node-36" transform="translate(384.3,472)"><rect class="box" width="52.7" height="46.7"/><text class="hd" x="26.4" y="6.6">Node 36</text><text class="lb"><tspan x="3" y="14.6">Mean</tspan><tspan x="3" y="21.9">Std. Dev.</tspan><tspan x="3" y="29">n</tspan><tspan x="3" y="36.1">%</tspan><tspan x="3" y="43.3">Predicted</tspan></text><text class="vl"><tspan x="49" y="14.6">99.220</tspan><tspan x="49" y="21.9">0.000</tspan><tspan x="38.3" y="29">1</tspan><tspan x="42.7" y="36.1">2.0</tspan><tspan x="49" y="43.3">99.220</tspan></text></g>
<g id="node-37" transform="translate(444.2,472)"><rect class="box" width="52.7" height="46.7"/><text class="hd" x="26.4" y="6.6">Node 37</text><text class="lb"><tspan x="3" y="14.6">Mean</tspan><tspan x="3" y="21.9">Std. Dev.</tspan><tspan x="3" y="29">n</tspan><tspan x="3" y="36.1">%</tspan><tspan x="3" y="43.3">Predicted</tspan></text><text class="vl"><tspan x="49" y="14.6">94.140</tspan><tspan x="49" y="21.9">0.240</tspan><tspan x="38.3" y="29">2</tspan><tspan x="42.7" y="36.1">3.9</tspan><tspan x="49" y="43.3">94.140</tspan></text><use xlink:href="#minus" x="45.7" y="46.7"/></g>
<g id="node-38" transform="translate(504.6,472)"><rect class="box" width="52.7" height="46.7"/><text class="hd" x="26.4" y="6.6">Node 38</text><text class="lb"><tspan x="3" y="14.6">Mean</tspan><tspan x="3" y="21.9">Std. Dev.</tspan><tspan x="3" y="29">n</tspan><tspan x="3" y="36.1">%</tspan><tspan x="3" y="43.3">Predicted</tspan></text><text class="vl"><tspan x="49" y="14.6">93.160</tspan><tspan x="49" y="21.9">0.000</tspan><tspan x="38.3" y="29">1</tspan><tspan x="42.7" y="36.1">2.0</tspan><tspan x="49" y="43.3">93.160</tspan></text></g>
<g id="node-39" transform="translate(564.5,472)"><rect class="box" width="52.7" height="46.7"/><text class="hd" x="26.4" y="6.6">Node 39</text><text class="lb"><tspan x="3" y="14.6">Mean</tspan><tspan x="3" y="21.9">Std. Dev.</tspan><tspan x="3" y="29">n</tspan><tspan x="3" y="36.1">%</tspan><tspan x="3" y="43.3">Predicted</tspan></text><text class="vl"><tspan x="49" y="14.6">99.890</tspan><tspan x="49" y="21.9">0.191</tspan><tspan x="38.3" y="29">3</tspan><tspan x="42.7" y="36.1">5.9</tspan><tspan x="49" y="43.3">99.890</tspan></text><use xlink:href="#minus" x="45.7" y="46.7"/></g>
<g id="node-40" transform="translate(687.2,472)"><rect class="box" width="52.7" height="46.7"/><text class="hd" x="26.4" y="6.6">Node 40</text><text class="lb"><tspan x="3" y="14.6">Mean</tspan><tspan x="3" y="21.9">Std. Dev.</tspan><tspan x="3" y="29">n</tspan><tspan x="3" y="36.1">%</tspan><tspan x="3" y="43.3">Predicted</tspan></text><text class="vl"><tspan x="49" y="14.6">98.708</tspan><tspan x="49" y="21.9">0.591</tspan><tspan x="38.3" y="29">5</tspan><tspan x="42.7" y="36.1">9.8</tspan><tspan x="49" y="43.3">98.708</tspan></text><use xlink:href="#minus" x="45.7" y="46.7"/></g>
<g id="node-41" transform="translate(816,472)"><rect class="box" width="52.7" height="46.7"/><text class="hd" x="26.4" y="6.6">Node 41</text><text class="lb"><tspan x="3" y="14.6">Mean</tspan><tspan x="3" y="21.9">Std. Dev.</tspan><tspan x="3" y="29">n</tspan><tspan x="3" y="36.1">%</tspan><tspan x="3" y="43.3">Predicted</tspan></text><text class="vl"><tspan x="49" y="14.6">96.323</tspan><tspan x="49" y="21.9">1.259</tspan><tspan x="38.3" y="29">3</tspan><tspan x="42.7" y="36.1">5.9</tspan><tspan x="49" y="43.3">96.323</tspan></text><use xlink:href="#minus" x="45.7" y="46.7"/></g>
<g id="node-42" transform="translate(938.6,472)"><rect class="box" width="52.7" height="46.7"/><text class="hd" x="26.4" y="6.6">Node 42</text><text class="lb"><tspan x="3" y="14.6">Mean</tspan><tspan x="3" y="21.9">Std. Dev.</tspan><tspan x="3" y="29">n</tspan><tspan x="3" y="36.1">%</tspan><tspan x="3" y="43.3">Predicted</tspan></text><text class="vl"><tspan x="49" y="14.6">97.539</tspan><tspan x="49" y="21.9">2.397</tspan><tspan x="38.3" y="29">8</tspan><tspan x="42.7" y="36.1">15.7</tspan><tspan x="49" y="43.3">97.539</tspan></text><use xlink:href="#minus" x="45.7" y="46.7"/></g>
<g id="node-43" transform="translate(998.6,472)"><rect class="box" width="52.7" height="46.7"/><text class="hd" x="26.4" y="6.6">Node 43</text><text class="lb"><tspan x="3" y="14.6">Mean</tspan><tspan x="3" y="21.9">Std. Dev.</tspan><tspan x="3" y="29">n</tspan><tspan x="3" y="36.1">%</tspan><tspan x="3" y="43.3">Predicted</tspan></text><text class="vl"><tspan x="49" y="14.6">85.900</tspan><tspan x="49" y="21.9">0.000</tspan><tspan x="38.3" y="29">1</tspan><tspan x="42.7" y="36.1">2.0</tspan><tspan x="49" y="43.3">85.900</tspan></text></g>
<g id="node-44" transform="translate(1058.6,472)"><rect class="box" width="52.7" height="46.7"/><text class="hd" x="26.4" y="6.6">Node 44</text><text class="lb"><tspan x="3" y="14.6">Mean</tspan><tspan x="3" y="21.9">Std. Dev.</tspan><tspan x="3" y="29">n</tspan><tspan x="3" y="36.1">%</tspan><tspan x="3" y="43.3">Predicted</tspan></text><text class="vl"><tspan x="49" y="14.6">85.710</tspan><tspan x="49" y="21.9">0.000</tspan><tspan x="38.3" y="29">1</tspan><tspan x="42.7" y="36.1">2.0</tspan><tspan x="49" y="43.3">85.710</tspan></text></g>
<g id="node-45" transform="translate(1118.6,472)"><rect class="box" width="52.7" height="46.7"/><text class="hd" x="26.4" y="6.6">Node 45</text><text class="lb"><tspan x="3" y="14.6">Mean</tspan><tspan x="3" y="21.9">Std. Dev.</tspan><tspan x="3" y="29">n</tspan><tspan x="3" y="36.1">%</tspan><tspan x="3" y="43.3">Predicted</tspan></text><text class="vl"><tspan x="49" y="14.6">84.510</tspan><tspan x="49" y="21.9">0.000</tspan><tspan x="38.3" y="29">1</tspan><tspan x="42.7" y="36.1">2.0</tspan><tspan x="49" y="43.3">84.510</tspan></text></g>
<g id="node-46" transform="translate(1178.6,472)"><rect class="box" width="52.7" height="46.7"/><text class="hd" x="26.4" y="6.6">Node 46</text><text class="lb"><tspan x="3" y="14.6">Mean</tspan><tspan x="3" y="21.9">Std. Dev.</tspan><tspan x="3" y="29">n</tspan><tspan x="3" y="36.1">%</tspan><tspan x="3" y="43.3">Predicted</tspan></text><text class="vl"><tspan x="49" y="14.6">82.890</tspan><tspan x="49" y="21.9">0.368</tspan><tspan x="38.3" y="29">2</tspan><tspan x="42.7" y="36.1">3.9</tspan><tspan x="49" y="43.3">82.890</tspan></text><use xlink:href="#minus" x="45.7" y="46.7"/></g>
<g id="node-47" transform="translate(1364.6,472)"><rect class="box" width="52.7" height="46.7"/><text class="hd" x="26.4" y="6.6">Node 47</text><text class="lb"><tspan x="3" y="14.6">Mean</tspan><tspan x="3" y="21.9">Std. Dev.</tspan><tspan x="3" y="29">n</tspan><tspan x="3" y="36.1">%</tspan><tspan x="3" y="43.3">Predicted</tspan></text><text class="vl"><tspan x="49" y="14.6">90.510</tspan><tspan x="49" y="21.9">7.467</tspan><tspan x="38.3" y="29">2</tspan><tspan x="42.7" y="36.1">3.9</tspan><tspan x="49" y="43.3">90.510</tspan></text></g>
<g id="node-48" transform="translate(1424.3,472)"><rect class="box" width="52.7" height="46.7"/><text class="hd" x="26.4" y="6.6">Node 48</text><text class="lb"><tspan x="3" y="14.6">Mean</tspan><tspan x="3" y="21.9">Std. Dev.</tspan><tspan x="3" y="29">n</tspan><tspan x="3" y="36.1">%</tspan><tspan x="3" y="43.3">Predicted</tspan></text><text class="vl"><tspan x="49" y="14.6">89.500</tspan><tspan x="49" y="21.9">0.000</tspan><tspan x="38.3" y="29">1</tspan><tspan x="42.7" y="36.1">2.0</tspan><tspan x="49" y="43.3">89.500</tspan></text></g>
<g id="node-49" transform="translate(1484.3,472)"><rect class="box" width="52.7" height="46.7"/><text class="hd" x="26.4" y="6.6">Node 49</text><text class="lb"><tspan x="3" y="14.6">Mean</tspan><tspan x="3" y="21.9">Std. Dev.</tspan><tspan x="3" y="29">n</tspan><tspan x="3" y="36.1">%</tspan><tspan x="3" y="43.3">Predicted</tspan></text><text class="vl"><tspan x="49" y="14.6">84.690</tspan><tspan x="49" y="21.9">0.000</tspan><tspan x="38.3" y="29">1</tspan><tspan x="42.7" y="36.1">2.0</tspan><tspan x="49" y="43.3">84.690</tspan></text></g>
<g id="node-50" transform="translate(1548.6,472)"><rect class="box" width="52.7" height="46.7"/><text class="hd" x="26.4" y="6.6">Node 50</text><text class="lb"><tspan x="3" y="14.6">Mean</tspan><tspan x="3" y="21.9">Std. Dev.</tspan><tspan x="3" y="29">n</tspan><tspan x="3" y="36.1">%</tspan><tspan x="3" y="43.3">Predicted</tspan></text><text class="vl"><tspan x="49" y="14.6">86.080</tspan><tspan x="49" y="21.9">0.269</tspan><tspan x="38.3" y="29">2</tspan><tspan x="42.7" y="36.1">3.9</tspan><tspan x="49" y="43.3">86.080</tspan></text><use xlink:href="#minus" x="45.7" y="46.7"/></g>
<g id="node-51" transform="translate(1668.6,472)"><rect class="box" width="52.7" height="46.7"/><text class="hd" x="26.4" y="6.6">Node 51</text><text class="lb"><tspan x="3" y="14.6">Mean</tspan><tspan x="3" y="21.9">Std. Dev.</tspan><tspan x="3" y="29">n</tspan><tspan x="3" y="36.1">%</tspan><tspan x="3" y="43.3">Predicted</tspan></text><text class="vl"><tspan x="49" y="14.6">88.220</tspan><tspan x="49" y="21.9">0.834</tspan><tspan x="38.3" y="29">2</tspan><tspan x="42.7" y="36.1">3.9</tspan><tspan x="49" y="43.3">88.220</tspan></text><use xlink:href="#minus" x="45.7" y="46.7"/></g>
<g id="node-52" transform="translate(1728.6,472)"><rect class="box" width="52.7" height="46.7"/><text class="hd" x="26.4" y="6.6">Node 52</text><text class="lb"><tspan x="3" y="14.6">Mean</tspan><tspan x="3" y="21.9">Std. Dev.</tspan><tspan x="3" y="29">n</tspan><tspan x="3" y="36.1">%</tspan><tspan x="3" y="43.3">Predicted</tspan></text><text class="vl"><tspan x="49" y="14.6">85.920</tspan><tspan x="49" y="21.9">0.000</tspan><tspan x="38.3" y="29">1</tspan><tspan x="42.7" y="36.1">2.0</tspan><tspan x="49" y="43.3">85.920</tspan></text></g>
<g id="node-53" transform="translate(45.5,557.3)"><rect class="box" width="52.7" height="46.7"/><text class="hd" x="26.4" y="6.6">Node 53</text><text class="lb"><tspan x="3" y="14.6">Mean</tspan><tspan x="3" y="21.9">Std. Dev.</tspan><tspan x="3" y="29">n</tspan><tspan x="3" y="36.1">%</tspan><tspan x="3" y="43.3">Predicted</tspan></text><text class="vl"><tspan x="49" y="14.6">91.547</tspan><tspan x="49" y="21.9">0.492</tspan><tspan x="38.3" y="29">3</tspan><tspan x="42.7" y="36.1">5.9</tspan><tspan x="49" y="43.3">91.547</tspan></text></g>
<g id="node-54" transform="translate(105.9,557.3)"><rect class="box" width="52.7" height="46.7"/><text class="hd" x="26.4" y="6.6">Node 54</text><text class="lb"><tspan x="3" y="14.6">Mean</tspan><tspan x="3" y="21.9">Std. Dev.</tspan><tspan x="3" y="29">n</tspan><tspan x="3" y="36.1">%</tspan><tspan x="3" y="43.3">Predicted</tspan></text><text class="vl"><tspan x="49" y="14.6">91.420</tspan><tspan x="49" y="21.9">0.000</tspan><tspan x="38.3" y="29">1</tspan><tspan x="42.7" y="36.1">2.0</tspan><tspan x="49" y="43.3">91.420</tspan></text></g>
<g id="node-55" transform="translate(413.7,557.3)"><rect class="box" width="52.7" height="46.7"/><text class="hd" x="26.4" y="6.6">Node 55</text><text class="lb"><tspan x="3" y="14.6">Mean</tspan><tspan x="3" y="21.9">Std. Dev.</tspan><tspan x="3" y="29">n</tspan><tspan x="3" y="36.1">%</tspan><tspan x="3" y="43.3">Predicted</tspan></text><text class="vl"><tspan x="49" y="14.6">93.970</tspan><tspan x="49" y="21.9">0.000</tspan><tspan x="38.3" y="29">1</tspan><tspan x="42.7" y="36.1">2.0</tspan><tspan x="49" y="43.3">93.970</tspan></text></g>
<g id="node-56" transform="translate(474.3,557.3)"><rect class="box" width="52.7" height="46.7"/><text class="hd" x="26.4" y="6.6">Node 56</text><text class="lb"><tspan x="3" y="14.6">Mean</tspan><tspan x="3" y="21.9">Std. Dev.</tspan><tspan x="3" y="29">n</tspan><tspan x="3" y="36.1">%</tspan><tspan x="3" y="43.3">Predicted</tspan></text><text class="vl"><tspan x="49" y="14.6">94.310</tspan><tspan x="49" y="21.9">0.000</tspan><tspan x="38.3" y="29">1</tspan><tspan x="42.7" y="36.1">2.0</tspan><tspan x="49" y="43.3">94.310</tspan></text></g>
<g id="node-57" transform="translate(534.3,557.3)"><rect class="box" width="52.7" height="46.7"/><text class="hd" x="26.4" y="6.6">Node 57</text><text class="lb"><tspan x="3" y="14.6">Mean</tspan><tspan x="3" y="21.9">Std. Dev.</tspan><tspan x="3" y="29">n</tspan><tspan x="3" y="36.1">%</tspan><tspan x="3" y="43.3">Predicted</tspan></text><text class="vl"><tspan x="49" y="14.6">99.835</tspan><tspan x="49" y="21.9">0.233</tspan><tspan x="38.3" y="29">2</tspan><tspan x="42.7" y="36.1">3.9</tspan><tspan x="49" y="43.3">99.835</tspan></text></g>
<g id="node-58" transform="translate(594.3,557.3)"><rect class="box" width="52.7" height="46.7"/><text class="hd" x="26.4" y="6.6">Node 58</text><text class="lb"><tspan x="3" y="14.6">Mean</tspan><tspan x="3" y="21.9">Std. Dev.</tspan><tspan x="3" y="29">n</tspan><tspan x="3" y="36.1">%</tspan><tspan x="3" y="43.3">Predicted</tspan></text><text class="vl"><tspan x="49" y="14.6">100.000</tspan><tspan x="49" y="21.9">0.000</tspan><tspan x="38.3" y="29">1</tspan><tspan x="42.7" y="36.1">2.0</tspan><tspan x="49" y="43.3">100.000</tspan></text></g>
<g id="node-59" transform="translate(654.6,557.3)"><rect class="box" width="52.7" height="46.7"/><text class="hd" x="26.4" y="6.6">Node 59</text><text class="lb"><tspan x="3" y="14.6">Mean</tspan><tspan x="3" y="21.9">Std. Dev.</tspan><tspan x="3" y="29">n</tspan><tspan x="3" y="36.1">%</tspan><tspan x="3" y="43.3">Predicted</tspan></text><text class="vl"><tspan x="49" y="14.6">98.865</tspan><tspan x="49" y="21.9">1.110</tspan><tspan x="38.3" y="29">2</tspan><tspan x="42.7" y="36.1">3.9</tspan><tspan x="49" y="43.3">98.865</tspan></text></g>
<g id="node-60" transform="translate(720.3,557.3)"><rect class="box" width="52.7" height="46.7"/><text class="hd" x="26.4" y="6.6">Node 60</text><text class="lb"><tspan x="3" y="14.6">Mean</tspan><tspan x="3" y="21.9">Std. Dev.</tspan><tspan x="3" y="29">n</tspan><tspan x="3" y="36.1">%</tspan><tspan x="3" y="43.3">Predicted</tspan></text><text class="vl"><tspan x="49" y="14.6">98.603</tspan><tspan x="49" y="21.9">0.204</tspan><tspan x="38.3" y="29">3</tspan><tspan x="42.7" y="36.1">5.9</tspan><tspan x="49" y="43.3">98.603</tspan></text></g>
<g id="node-61" transform="translate(785.5,557.3)"><rect class="box" width="52.7" height="46.7"/><text class="hd" x="26.4" y="6.6">Node 61</text><text class="lb"><tspan x="3" y="14.6">Mean</tspan><tspan x="3" y="21.9">Std. Dev.</tspan><tspan x="3" y="29">n</tspan><tspan x="3" y="36.1">%</tspan><tspan x="3" y="43.3">Predicted</tspan></text><text class="vl"><tspan x="49" y="14.6">96.830</tspan><tspan x="49" y="21.9">0.000</tspan><tspan x="38.3" y="29">1</tspan><tspan x="42.7" y="36.1">2.0</tspan><tspan x="49" y="43.3">96.830</tspan></text></g>
<g id="node-62" transform="translate(845.6,557.3)"><rect class="box" width="52.7" height="46.7"/><text class="hd" x="26.4" y="6.6">Node 62</text><text class="lb"><tspan x="3" y="14.6">Mean</tspan><tspan x="3" y="21.9">Std. Dev.</tspan><tspan x="3" y="29">n</tspan><tspan x="3" y="36.1">%</tspan><tspan x="3" y="43.3">Predicted</tspan></text><text class="vl"><tspan x="49" y="14.6">96.070</tspan><tspan x="49" y="21.9">1.669</tspan><tspan x="38.3" y="29">2</tspan><tspan x="42.7" y="36.1">3.9</tspan><tspan x="49" y="43.3">96.070</tspan></text></g>
<g id="node-63" transform="translate(906,557.3)"><rect class="box" width="52.7" height="46.7"/><text class="hd" x="26.4" y="6.6">Node 63</text><text class="lb"><tspan x="3" y="14.6">Mean</tspan><tspan x="3" y="21.9">Std. Dev.</tspan><tspan x="3" y="29">n</tspan><tspan x="3" y="36.1">%</tspan><tspan x="3" y="43.3">Predicted</tspan></text><text class="vl"><tspan x="49" y="14.6">99.350</tspan><tspan x="49" y="21.9">0.000</tspan><tspan x="38.3" y="29">1</tspan><tspan x="42.7" y="36.1">2.0</tspan><tspan x="49" y="43.3">99.350</tspan></text></g>
<g id="node-64" transform="translate(971.6,557.3)"><rect class="box" width="52.7" height="46.7"/><text class="hd" x="26.4" y="6.6">Node 64</text><text class="lb"><tspan x="3" y="14.6">Mean</tspan><tspan x="3" y="21.9">Std. Dev.</tspan><tspan x="3" y="29">n</tspan><tspan x="3" y="36.1">%</tspan><tspan x="3" y="43.3">Predicted</tspan></text><text class="vl"><tspan x="49" y="14.6">97.280</tspan><tspan x="49" y="21.9">2.466</tspan><tspan x="38.3" y="29">7</tspan><tspan x="42.7" y="36.1">13.7</tspan><tspan x="49" y="43.3">97.280</tspan></text></g>
<g id="node-65" transform="translate(1149,557.3)"><rect class="box" width="52.7" height="46.7"/><text class="hd" x="26.4" y="6.6">Node 65</text><text class="lb"><tspan x="3" y="14.6">Mean</tspan><tspan x="3" y="21.9">Std. Dev.</tspan><tspan x="3" y="29">n</tspan><tspan x="3" y="36.1">%</tspan><tspan x="3" y="43.3">Predicted</tspan></text><text class="vl"><tspan x="49" y="14.6">83.150</tspan><tspan x="49" y="21.9">0.000</tspan><tspan x="38.3" y="29">1</tspan><tspan x="42.7" y="36.1">2.0</tspan><tspan x="49" y="43.3">83.150</tspan></text></g>
<g id="node-66" transform="translate(1209,557.3)"><rect class="box" width="52.7" height="46.7"/><text class="hd" x="26.4" y="6.6">Node 66</text><text class="lb"><tspan x="3" y="14.6">Mean</tspan><tspan x="3" y="21.9">Std. Dev.</tspan><tspan x="3" y="29">n</tspan><tspan x="3" y="36.1">%</tspan><tspan x="3" y="43.3">Predicted</tspan></text><text class="vl"><tspan x="49" y="14.6">82.630</tspan><tspan x="49" y="21.9">0.000</tspan><tspan x="38.3" y="29">1</tspan><tspan x="42.7" y="36.1">2.0</tspan><tspan x="49" y="43.3">82.630</tspan></text></g>
<g id="node-67" transform="translate(1519.3,557.3)"><rect class="box" width="52.7" height="46.7"/><text class="hd" x="26.4" y="6.6">Node 67</text><text class="lb"><tspan x="3" y="14.6">Mean</tspan><tspan x="3" y="21.9">Std. Dev.</tspan><tspan x="3" y="29">n</tspan><tspan x="3" y="36.1">%</tspan><tspan x="3" y="43.3">Predicted</tspan></text><text class="vl"><tspan x="49" y="14.6">85.890</tspan><tspan x="49" y="21.9">0.000</tspan><tspan x="38.3" y="29">1</tspan><tspan x="42.7" y="36.1">2.0</tspan><tspan x="49" y="43.3">85.890</tspan></text></g>
<g id="node-68" transform="translate(1579.3,557.3)"><rect class="box" width="52.7" height="46.7"/><text class="hd" x="26.4" y="6.6">Node 68</text><text class="lb"><tspan x="3" y="14.6">Mean</tspan><tspan x="3" y="21.9">Std. Dev.</tspan><tspan x="3" y="29">n</tspan><tspan x="3" y="36.1">%</tspan><tspan x="3" y="43.3">Predicted</tspan></text><text class="vl"><tspan x="49" y="14.6">86.270</tspan><tspan x="49" y="21.9">0.000</tspan><tspan x="38.3" y="29">1</tspan><tspan x="42.7" y="36.1">2.0</tspan><tspan x="49" y="43.3">86.270</tspan></text></g>
<g id="node-69" transform="translate(1639.3,557.3)"><rect class="box" width="52.7" height="46.7"/><text class="hd" x="26.4" y="6.6">Node 69</text><text class="lb"><tspan x="3" y="14.6">Mean</tspan><tspan x="3" y="21.9">Std. Dev.</tspan><tspan x="3" y="29">n</tspan><tspan x="3" y="36.1">%</tspan><tspan x="3" y="43.3">Predicted</tspan></text><text class="vl"><tspan x="49" y="14.6">88.810</tspan><tspan x="49" y="21.9">0.000</tspan><tspan x="38.3" y="29">1</tspan><tspan x="42.7" y="36.1">2.0</tspan><tspan x="49" y="43.3">88.810</tspan></text></g>
<g id="node-70" transform="translate(1699.3,557.3)"><rect class="box" width="52.7" height="46.7"/><text class="hd" x="26.4" y="6.6">Node 70</text><text class="lb"><tspan x="3" y="14.6">Mean</tspan><tspan x="3" y="21.9">Std. Dev.</tspan><tspan x="3" y="29">n</tspan><tspan x="3" y="36.1">%</tspan><tspan x="3" y="43.3">Predicted</tspan></text><text class="vl"><tspan x="49" y="14.6">87.630</tspan><tspan x="49" y="21.9">0.000</tspan><tspan x="38.3" y="29">1</tspan><tspan x="42.7" y="36.1">2.0</tspan><tspan x="49" y="43.3">87.630</tspan></text></g>
</g>
</svg>
